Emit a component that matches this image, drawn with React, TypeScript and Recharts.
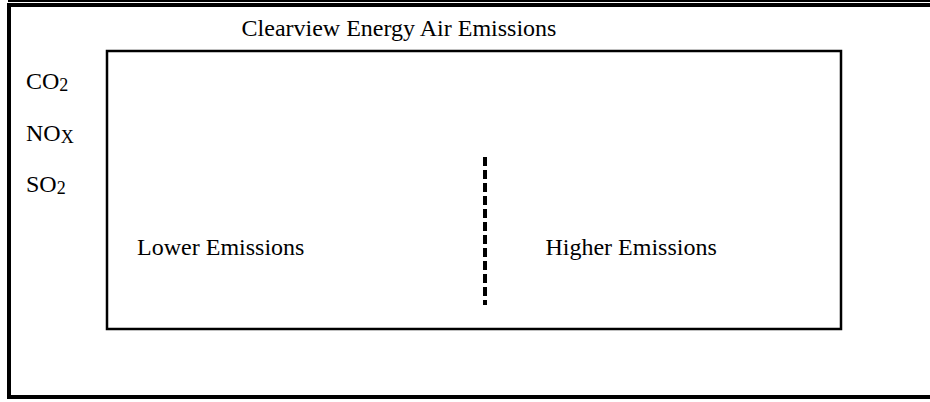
import { ComposedChart, XAxis, YAxis, ReferenceArea, ReferenceLine, Scatter, LabelList, Legend } from 'recharts'

const title = 'Clearview Energy Air Emissions'

const pollutants = [
  { name: 'CO', sub: '2' },
  { name: 'NO', sub: 'X' },
  { name: 'SO', sub: '2' },
]

const zones = [
  { name: 'Lower Emissions', x: 15.5, y: 29.8 },
  { name: 'Higher Emissions', x: 71.4, y: 29.8 },
]

const threshold = 51.5
const thresholdSpan = [61.9, 8.6]

const font = '"Liberation Serif", "Times New Roman", serif'

function PollutantList() {
  return (
    <div style={{ fontFamily: font, fontSize: 24, lineHeight: '51.5px', color: '#000' }}>
      {pollutants.map((p) => (
        <div key={p.name + p.sub}>
          {p.name}
          <span style={{ fontSize: 18, lineHeight: 1, verticalAlign: '-2px' }}>{p.sub}</span>
        </div>
      ))}
    </div>
  )
}

function ZoneLabel(props: any) {
  const { x, y, width, height, value } = props
  return (
    <text
      x={x + width / 2}
      y={y + height / 2}
      dy="0.355em"
      textAnchor="middle"
      fill="#000"
      fontSize={24}
      fontFamily={font}
    >
      {value}
    </text>
  )
}

export default function App() {
  return (
    <div style={{ position: 'relative', width: 930, height: 402, background: '#fff', fontFamily: font }}>
      <style>{'body{margin:0}'}</style>
      <div style={{ position: 'absolute', left: 8, top: 0, width: 922, height: 2, background: '#000' }} />
      <div
        style={{
          position: 'absolute',
          left: 7,
          top: 3,
          width: 923,
          height: 396,
          boxSizing: 'border-box',
          borderTop: '4px solid #000',
          borderLeft: '4px solid #000',
          borderBottom: '4px solid #000',
        }}
      />
      <div
        style={{
          position: 'absolute',
          left: 0,
          top: 16,
          width: 798,
          textAlign: 'center',
          fontSize: 24,
          lineHeight: '24px',
          color: '#000',
        }}
      >
        {title}
      </div>
      <div style={{ position: 'absolute', left: 0, top: 0 }}>
        <ComposedChart width={930} height={402} margin={{ top: 51, right: 89, bottom: 73, left: 107 }}>
          <XAxis type="number" dataKey="x" domain={[0, 100]} hide allowDataOverflow />
          <YAxis type="number" dataKey="y" domain={[0, 100]} hide allowDataOverflow />
          <ReferenceArea x1={0} x2={100} y1={0} y2={100} fill="none" stroke="#000" strokeWidth={2.5} fillOpacity={0} />
          <ReferenceLine
            segment={[
              { x: threshold, y: thresholdSpan[0] },
              { x: threshold, y: thresholdSpan[1] },
            ]}
            stroke="#000"
            strokeWidth={4}
            strokeDasharray="9 4"
          />
          <Scatter data={zones} isAnimationActive={false} shape={() => <g />}>
            <LabelList dataKey="name" content={ZoneLabel} />
          </Scatter>
          <Legend
            layout="horizontal"
            align="center"
            verticalAlign="middle"
            wrapperStyle={{ left: 26, top: 56, width: 80 }}
            content={() => <PollutantList />}
          />
        </ComposedChart>
      </div>
    </div>
  )
}
